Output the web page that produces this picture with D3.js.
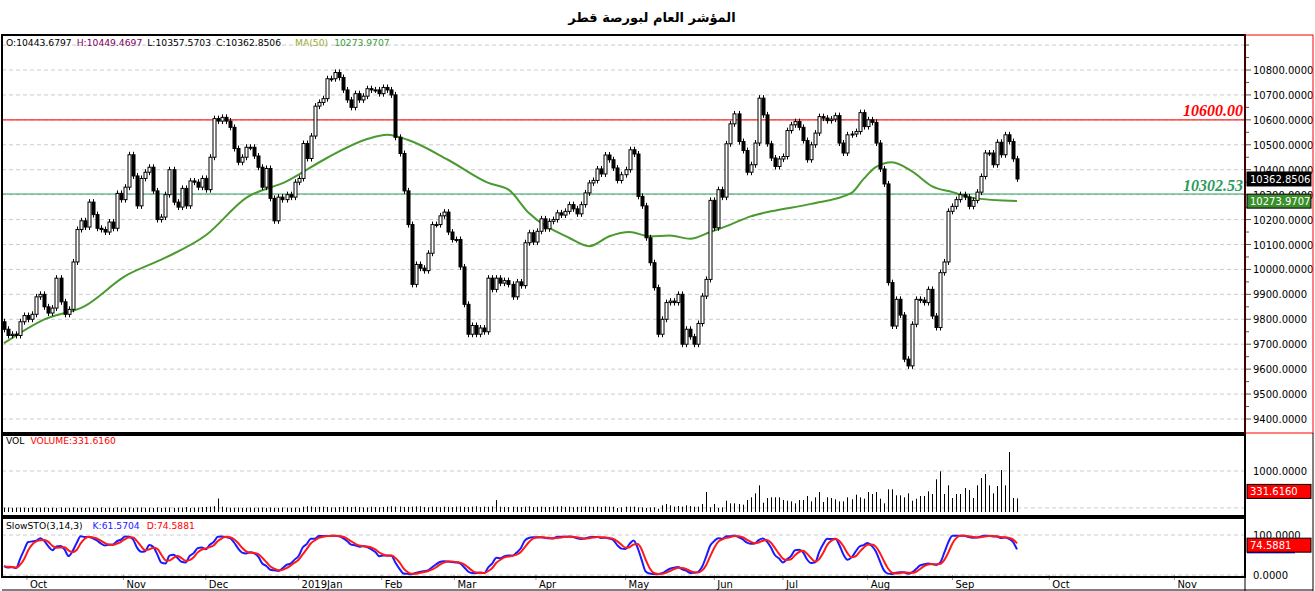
<!DOCTYPE html>
<html><head><meta charset="utf-8">
<script src="https://cdn.jsdelivr.net/npm/d3@7"></script>
<style>body{margin:0;background:#fff}svg{display:block;font-family:"DejaVu Sans",Verdana,sans-serif}</style>
</head><body><svg id="c" width="1315" height="591"></svg>
<script>
const closes=[9760,9735,9740,9735,9790,9815,9800,9820,9890,9900,9850,9825,9845,9965,9870,9820,9840,10030,10160,10195,10170,10270,10220,10165,10160,10150,10190,10165,10305,10280,10330,10460,10375,10255,10365,10390,10410,10315,10200,10210,10300,10400,10270,10250,10325,10255,10355,10350,10330,10365,10320,10450,10605,10595,10610,10595,10570,10485,10430,10450,10490,10490,10455,10410,
10330,10405,10285,10195,10290,10280,10300,10290,10350,10365,10505,10445,10535,10655,10670,10685,10765,10765,10790,10770,10720,10680,10650,10705,10680,10695,10725,10720,10720,10705,10730,10720,10700,10530,10465,10315,10180,9940,10020,10005,9995,10065,10180,10180,10215,10230,10150,10120,10120,10010,9860,9740,9775,9740,9765,9750,9965,9920,9965,9945,9955,9940,
9890,9950,9935,10107,10147,10110,10153,10203,10163,10193,10200,10227,10218,10233,10260,10243,10223,10260,10307,10347,10357,10403,10383,10459,10440,10407,10357,10380,10400,10480,10463,10293,10255,10127,10027,9927,9740,9800,9867,9873,9867,9900,9700,9760,9730,9700,9783,9893,9960,10277,10167,10320,10290,10504,10584,10624,10513,10477,10390,10420,10507,10687,
10620,10504,10447,10413,10443,10453,10557,10580,10593,10570,10517,10440,10500,10547,10613,10607,10597,10603,10617,10507,10467,10540,10543,10553,10629,10573,10600,10590,10507,10403,10343,9947,9773,9880,9817,9640,9613,9780,9880,9877,9867,9920,9813,9767,9987,10030,10233,10253,10280,10300,10290,10253,10277,10310,10373,10467,10467,10420,10510,10460,10540,10513,10443.68,10362.85];
const firstOpen=9790;
const volumes=[105,110,100,105,110,105,100,110,100,105,110,100,105,100,110,100,105,110,100,105,100,110,105,100,110,100,105,100,110,100,105,110,100,105,110,100,105,100,110,100,105,110,100,105,110,120,100,105,110,120,125,130,140,330,130,110,105,100,110,100,105,110,100,105,110,100,110,105,100,110,105,100,110,100,130,140,135,120,125,130,120,110,115,120,130,125,120,130,120,115,110,130,120,115,125,130,140,130,135,120,125,130,135,140,120,115,130,125,120,130,125,120,130,135,125,120,130,140,120,130,125,135,290,130,125,120,130,125,120,130,135,120,125,130,125,120,135,130,140,125,130,120,125,130,135,130,125,130,120,135,
130,130,98,114,130,130,130,114,114,98,114,114,81,163,195,163,130,146,130,163,146,130,130,195,488,114,195,98,114,276,211,211,195,179,293,358,455,650,228,341,358,358,358,293,276,260,211,293,293,390,260,358,488,244,358,341,309,260,260,358,309,423,358,325,488,439,488,325,211,553,553,407,407,358,455,276,325,390,390,504,439,797,992,439,650,341,439,439,585,537,341,650,829,927,650,455,634,1024,650,1463,341,331.6];
const maIdx=[0,10,20,30,40,50,60,70,80,90,95,100,110,120,125,130,140,145,150,155,160,165,170,175,180,185,190,200,210,213,216,220,225,230,235,240,251];
const maVal=[9704,9800,9853,9973,10047,10137,10287,10353,10447,10523,10540,10520,10440,10347,10320,10227,10127,10093,10133,10150,10133,10136,10123,10150,10180,10213,10233,10263,10307,10363,10410,10430,10393,10333,10310,10287,10274];
const priceTicks=[9400,9500,9600,9700,9800,9900,10000,10100,10200,10300,10400,10500,10600,10700,10800];
const months=["Oct","Nov","Dec","2019Jan","Feb","Mar","Apr","May","Jun","Jul","Aug","Sep","Oct","Nov"];
const monthIdx=[5.7,29.6,50,73,93.6,111.6,131.8,154,176,193,214,235,259,290];

const svg=d3.select("#c");
const L=2,R=1245,AX=1313;
const N=closes.length;
const x=d3.scaleLinear().domain([0,N-1]).range([4,1017]);
const y=d3.scaleLinear().domain([9400,10800]).range([419,70]);
const yv=d3.scaleLinear().domain([0,1000]).range([512,471]);
const ys=d3.scaleLinear().domain([0,100]).range([575,535]);
const W=12;
const data=closes.map((c,i)=>{const o=i?closes[i-1]:firstOpen;return{o,c,h:Math.max(o,c)+W,l:Math.min(o,c)-W};});

svg.append("text").attr("x",652).attr("y",22).attr("text-anchor","middle").attr("font-weight","bold").attr("font-size",13).text("المؤشر العام لبورصة قطر");

const grid=(yy)=>svg.append("line").attr("x1",L).attr("x2",R).attr("y1",yy).attr("y2",yy).attr("stroke","#ccc").attr("stroke-dasharray","4,3");
[...priceTicks,10900].forEach(v=>grid(y(v)));
grid(yv(1000));grid(yv(100));grid(ys(100));grid(ys(0));

const axisG=svg.append("g").attr("font-size",10);
priceTicks.forEach(v=>{axisG.append("text").attr("x",1253).attr("y",y(v)+4).text(v.toFixed(4));});
[9450,9550,9650,9750,9850,9950,10050,10150,10250,10350,10450,10550,10650,10750,10850,10900].forEach(v=>svg.append("line").attr("x1",R).attr("x2",R+4).attr("y1",y(v)).attr("y2",y(v)).attr("stroke","#555"));
priceTicks.forEach(v=>svg.append("line").attr("x1",R).attr("x2",R+6).attr("y1",y(v)).attr("y2",y(v)).attr("stroke","#555"));
axisG.append("text").attr("x",1253).attr("y",yv(1000)+4).text("1000.0000");
axisG.append("text").attr("x",1253).attr("y",ys(100)+4).text("100.0000");
axisG.append("text").attr("x",1253).attr("y",ys(0)+4).text("0.0000");

svg.append("line").attr("x1",L).attr("x2",R).attr("y1",y(10600)).attr("y2",y(10600)).attr("stroke","#f22").attr("stroke-width",1.2);
svg.append("line").attr("x1",L).attr("x2",R).attr("y1",y(10302.53)).attr("y2",y(10302.53)).attr("stroke","#2e9b5e").attr("stroke-width",1.2);
svg.append("text").attr("x",1243).attr("y",y(10600)-4).attr("text-anchor","end").attr("font-family","Liberation Serif").attr("font-style","italic").attr("font-weight","bold").attr("font-size",16).attr("fill","#f00").text("10600.00");
svg.append("text").attr("x",1243).attr("y",y(10302.53)-3).attr("text-anchor","end").attr("font-family","Liberation Serif").attr("font-style","italic").attr("font-weight","bold").attr("font-size",16).attr("fill","#2e9b5e").text("10302.53");

svg.append("path").datum(maIdx.map((d,i)=>[x(d),y(maVal[i])])).attr("d",d3.line().curve(d3.curveMonotoneX)).attr("fill","none").attr("stroke","#4a9a30").attr("stroke-width",2);

const cg=svg.append("g");
data.forEach((d,i)=>{
  const cx=Math.round(x(i))+0.5;
  cg.append("line").attr("x1",cx).attr("x2",cx).attr("y1",y(d.h)).attr("y2",y(d.l)).attr("stroke","#000");
  const t=y(Math.max(d.o,d.c)),b=y(Math.min(d.o,d.c));
  cg.append("rect").attr("x",cx-1.5).attr("y",t).attr("width",3).attr("height",Math.max(1,b-t)).attr("fill",d.c>=d.o?"#fff":"#000").attr("stroke","#000").attr("stroke-width",1);
});

const off=N-volumes.length;
volumes.forEach((v,i)=>{const cx=Math.round(x(i+off))+0.5;svg.append("line").attr("x1",cx).attr("x2",cx).attr("y1",yv(0)).attr("y2",yv(v)).attr("stroke","#000");});

const raw=data.map((d,i)=>{const s=data.slice(Math.max(0,i-13),i+1);const hh=d3.max(s,e=>e.h),ll=d3.min(s,e=>e.l);return (d.c-ll)/(hh-ll)*100;});
const sma=(a,n)=>a.map((_,i)=>d3.mean(a.slice(Math.max(0,i-n+1),i+1)));
const K=sma(raw,3),D=sma(K,3);
const sl=d3.line().x((d,i)=>x(i)).y(d=>ys(d)).curve(d3.curveMonotoneX);
svg.append("path").datum(K).attr("d",sl).attr("fill","none").attr("stroke","#1a1aff").attr("stroke-width",2);
svg.append("path").datum(D).attr("d",sl).attr("fill","none").attr("stroke","#ff1a1a").attr("stroke-width",2);

monthIdx.forEach((m,i)=>{const xx=x(m);svg.append("line").attr("x1",xx).attr("x2",xx).attr("y1",575).attr("y2",580).attr("stroke","#999");
 svg.append("text").attr("x",xx+3).attr("y",588).attr("font-size",10).text(months[i]);});

const frame=(t,b)=>svg.append("rect").attr("x",L).attr("y",t).attr("width",R-L).attr("height",b-t).attr("fill","none").attr("stroke","#000").attr("stroke-width",2);
frame(35,433);frame(435,516);frame(518,577);
svg.append("rect").attr("x",R).attr("y",35).attr("width",AX-R).attr("height",398).attr("fill","none").attr("stroke","#f00").attr("stroke-width",1);
svg.append("line").attr("x1",R).attr("x2",R).attr("y1",35).attr("y2",591).attr("stroke","#000");
svg.append("line").attr("x1",L).attr("x2",AX).attr("y1",590).attr("y2",590).attr("stroke","#000");
svg.append("line").attr("x1",AX).attr("x2",AX).attr("y1",433).attr("y2",591).attr("stroke","#000");

const tag=(yy,txt,bg,fg)=>{svg.append("rect").attr("x",1247).attr("y",yy-7).attr("width",64).attr("height",14).attr("fill",bg).attr("stroke","#000");
 svg.append("text").attr("x",1250).attr("y",yy+4).attr("font-size",10).attr("fill",fg).text(txt);};
tag(y(10362.8506),"10362.8506","#000","#fff");
tag(y(10273.9707),"10273.9707","#3a8f2a","#fff");
tag(yv(331.616)-7,"331.6160","#f00","#fff");
svg.append("rect").attr("x",1247).attr("y",ys(61.57)-3).attr("width",48).attr("height",6).attr("fill","#1a1aff");
tag(ys(74.5881),"74.5881","#f00","#fff");

const hdr=(yy,parts)=>{const t=svg.append("text").attr("x",6).attr("y",yy).attr("font-size",9.2);parts.forEach(([s,c,dx])=>t.append("tspan").attr("fill",c).attr("dx",dx||0).text(s));};
hdr(46,[["O:10443.6797","#000"],["H:10449.4697","#800060",5],["L:10357.5703","#000",5],["C:10362.8506","#000",5],["MA(50)","#9aaa30",14],["10273.9707","#3a9a3a",6]]);
hdr(444,[["VOL","#000"],["VOLUME:331.6160","#f00",7]]);
hdr(529,[["SlowSTO(3,14,3)","#000"],["K:61.5704","#1a1aff",10],["D:74.5881","#f00",7]]);
</script></body></html>
